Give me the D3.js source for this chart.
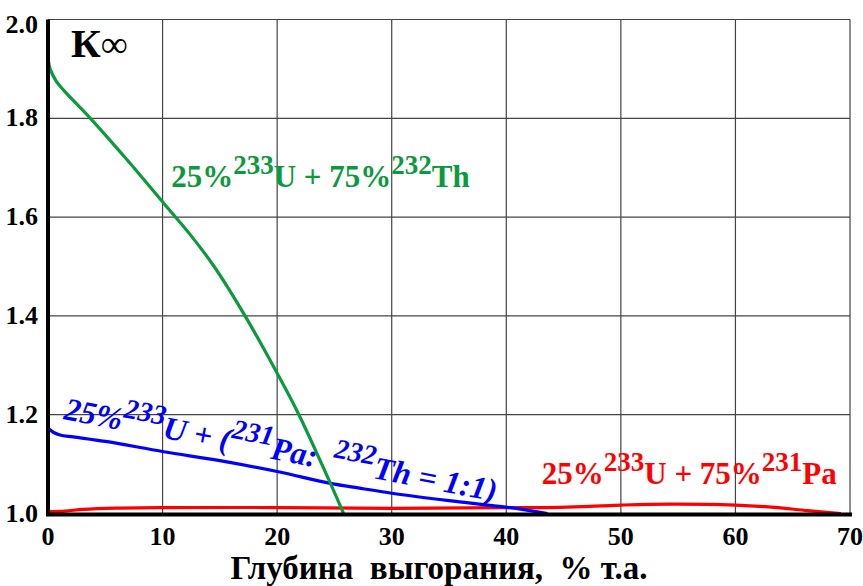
<!DOCTYPE html>
<html>
<head>
<meta charset="utf-8">
<script src="https://cdn.jsdelivr.net/npm/d3@7"></script>
<style>
  body { margin: 0; background: #fff; }
</style>
</head>
<body>
<div id="chart"></div>
<script>
var width = 863, height = 586;
var serif = '"Liberation Serif", serif';

// burnup depth, % FIMA
var xTicks = [0, 10, 20, 30, 40, 50, 60, 70];
var yTicks = [1.0, 1.2, 1.4, 1.6, 1.8, 2.0];

// 25% U233 + 75% Th232
var thX = [0, 0.2, 0.7, 1.6, 3.7, 6.9, 10.1, 12.5, 14.5, 17.2, 20, 21.9, 24.65, 25.8];
var thK = [1.921, 1.899, 1.876, 1.851, 1.8, 1.716, 1.628, 1.562, 1.50, 1.4, 1.284, 1.2, 1.061, 1.0];

// 25% U233 + (Pa231 : Th232 = 1:1)
var mixX = [0, 0.5, 1.05, 2.2, 5, 10.1, 15, 20, 24.65, 27.3, 30, 35, 40.1, 43.6];
var mixK = [1.1725, 1.164, 1.159, 1.155, 1.146, 1.125, 1.107, 1.085, 1.061, 1.051, 1.041, 1.026, 1.0125, 1.0];

// 25% U233 + 75% Pa231
var paX = [0, 1.5, 3.1, 6, 10, 20, 30, 40, 44.75, 50, 54.4, 60, 63.4, 66.3, 69.2];
var paK = [1.0036, 1.005, 1.0085, 1.011, 1.012, 1.012, 1.0105, 1.012, 1.0125, 1.017, 1.019, 1.017, 1.0125, 1.0057, 1.0];

var svg = d3.select('#chart')
    .append('svg')
    .attr('width', width)
    .attr('height', height)
    .attr('font-family', serif);

var x = d3.scaleLinear().domain([0, 70]).range([48, 850]);
var y = d3.scaleLinear().domain([1.0, 2.0]).range([513.5, 19.5]);

// grid
svg.append('g')
    .selectAll('line')
    .data(xTicks.slice(1)).enter()
    .append('line')
    .attr('x1', function (d) { return x(d); })
    .attr('x2', function (d) { return x(d); })
    .attr('y1', y(2.0))
    .attr('y2', y(1.0))
    .style('stroke', '#444')
    .style('stroke-width', 1.2);

svg.append('g')
    .selectAll('line')
    .data(yTicks.slice(1)).enter()
    .append('line')
    .attr('x1', x(0))
    .attr('x2', x(70))
    .attr('y1', function (d) { return y(d); })
    .attr('y2', function (d) { return y(d); })
    .style('stroke', '#444')
    .style('stroke-width', 1.2);

// tick labels
svg.append('g')
    .selectAll('text')
    .data(yTicks).enter()
    .append('text')
    .attr('x', 38)
    .attr('y', function (d) { return y(d) + (d == 2.0 ? 13 : 8); })
    .attr('text-anchor', 'end')
    .style('font-family', serif)
    .style('font-weight', 'bold')
    .style('font-size', '26px')
    .text(function (d) { return d3.format('.1f')(d); });

svg.append('g')
    .selectAll('text')
    .data(xTicks).enter()
    .append('text')
    .attr('x', function (d) { return x(d); })
    .attr('y', 545)
    .attr('text-anchor', 'middle')
    .style('font-family', serif)
    .style('font-weight', 'bold')
    .style('font-size', '26px')
    .text(function (d) { return d; });

// curves
function drawCurve(xs, ks, color) {
    var pts = xs.map(function (v, i) { return [v, ks[i]]; });
    var line = d3.line()
        .x(function (d) { return x(d[0]); })
        .y(function (d) { return y(d[1]); })
        .curve(d3.curveCatmullRom.alpha(0.5));
    svg.append('path')
        .attr('d', line(pts))
        .style('fill', 'none')
        .style('stroke', color)
        .style('stroke-width', 3.2);
}
drawCurve(paX, paK, '#ff0000');
drawCurve(mixX, mixK, '#0000ff');
drawCurve(thX, thK, '#0b9a3c');

// axes lines
svg.append('line')
    .attr('x1', x(0)).attr('x2', x(0))
    .attr('y1', y(2.0)).attr('y2', y(1.0) + 2)
    .style('stroke', '#000').style('stroke-width', 4);
svg.append('line')
    .attr('x1', x(0) - 2).attr('x2', x(70) + 2)
    .attr('y1', y(1.0) + 1).attr('y2', y(1.0) + 1)
    .style('stroke', '#000').style('stroke-width', 4);

// labels with superscripts
function label(parts, px, py, color, italic, angle, size, supSize) {
    var t = svg.append('text')
        .attr('transform', 'translate(' + px + ',' + py + ') rotate(' + angle + ')')
        .style('fill', color)
        .style('font-family', serif)
        .style('font-weight', 'bold')
        .style('font-style', italic ? 'italic' : 'normal')
        .style('font-size', size + 'px')
        .style('white-space', 'pre');
    parts.forEach(function (p) {
        if (p[1]) {
            t.append('tspan').attr('dy', -13).style('font-size', supSize + 'px').text(p[0]);
        } else {
            t.append('tspan').attr('dy', 13).text(p[0]);
        }
    });
    t.select('tspan').attr('dy', 0);
}

label([['25%', 0], ['233', 1], ['U + 75%', 0], ['232', 1], ['Th', 0]],
    x(10.75), y(1.661), '#0b9a3c', false, 0, 31, 27);
label([['25%', 0], ['233', 1], ['U + 75%', 0], ['231', 1], ['Pa', 0]],
    x(43.1), y(1.0597), '#ff0000', false, 0, 31, 27);
label([['25%', 0], ['233', 1], ['U + (', 0], ['231', 1], ['Pa:  ', 0], ['232', 1], ['Th = 1:1)', 0]],
    x(1.3), y(1.1913), '#0000ff', true, 10.8, 32, 28);

// K infinity
var kt = svg.append('text')
    .attr('x', 71)
    .attr('y', 57)
    .style('font-family', serif)
    .style('font-weight', 'bold')
    .style('font-size', '41px');
kt.append('tspan').text('К');
kt.append('tspan').style('font-weight', 'normal').style('font-size', '38px').text('∞');

// x axis title
svg.append('text')
    .attr('x', 439)
    .attr('y', 579)
    .attr('text-anchor', 'middle')
    .style('font-family', serif)
    .style('font-weight', 'bold')
    .style('white-space', 'pre')
    .style('font-size', '33px')
    .text('Глубина  выгорания,  % т.а.');
</script>
</body>
</html>
